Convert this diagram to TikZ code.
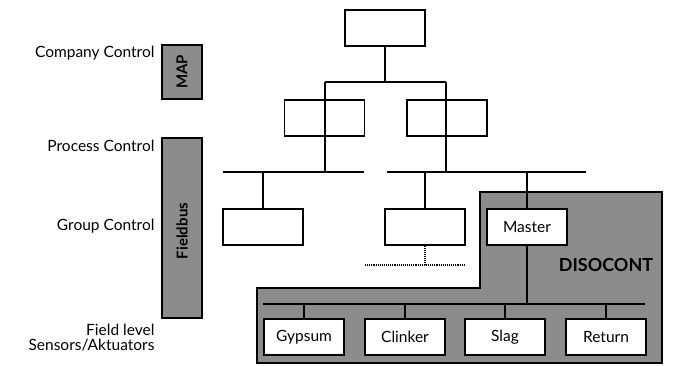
\documentclass[tikz,border=0pt]{standalone}
\usepackage{fontspec}
\setmainfont{Lato}
\begin{document}
\begin{tikzpicture}[x=1pt,y=-1pt,line width=1.1pt,
  box/.style={draw,fill=white,minimum width=80pt,minimum height=36pt,inner sep=0pt,font=\fontsize{15.5}{17}\selectfont},
  gbar/.style={draw,fill=black!45},
  lbl/.style={anchor=east,font=\fontsize{15.5}{17}\selectfont,inner sep=0pt,align=right}]
\useasboundingbox (0,0) rectangle (676,366);
% left bars
\node[gbar,minimum width=40pt,minimum height=54pt,inner sep=0pt] (map) at (182,72) {};
\node[rotate=90,font=\bfseries\fontsize{15}{16}\selectfont] at (map.center) {MAP};
\node[gbar,minimum width=40pt,minimum height=180pt,inner sep=0pt] (fb) at (182,228) {};
\node[rotate=90,font=\bfseries\fontsize{15}{16}\selectfont] at ([yshift=-3pt]fb.center) {Fieldbus};
\node[lbl] (l1) at (155,53) {Company Control};
\node[lbl] (l2) at (155,146) {Process Control};
\node[lbl] (l3) at (155,226) {Group Control};
\node[lbl,font=\fontsize{15.5}{15}\selectfont] (l4) at (155,338) {Field level\\Sensors/Aktuators};
% gray DISOCONT region
\draw[fill=black!45] (480,192) -- (662,192) -- (662,363) -- (257,363) -- (257,288) -- (480,288) -- cycle;
\node[font=\bfseries\fontsize{18}{20}\selectfont] (dis) at (606,265) {DISOCONT};
% top
\node[box] (top) at (385,28) {};
\coordinate (j1) at (385,82);
\coordinate (j1l) at (325,82);
\coordinate (j1r) at (446,82);
\draw (top) -- (j1);
\draw (j1l) -- (j1r);
\coordinate (b1l) at (325,172);
\coordinate (b1r) at (446,172);
\node[box] (m1) at (324.5,118) {};
\node[box] (m2) at (447,118) {};
\draw (j1l) -- (b1l);
\draw (j1r) -- (b1r);
% process buses
\coordinate (pb1a) at (223,172);
\coordinate (pb1b) at (364,172);
\coordinate (pb2a) at (387,172);
\coordinate (pb2b) at (586,172);
\draw (pb1a) -- (pb1b);
\draw (pb2a) -- (pb2b);
% group level
\node[box] (g1) at (263,227) {};
\node[box] (g2) at (425,227) {};
\node[box] (ms) at (527,227) {Master};
\draw (263,172) -- (g1.north);
\draw (425,172) -- (g2.north);
\draw (527,172) -- (ms.north);
% dotted
\coordinate (d1) at (425,265);
\coordinate (d2) at (365,265);
\coordinate (d3) at (465,265);
\draw[densely dotted] (g2.south) -- (d1);
\draw[densely dotted] (d2) -- (d3);
% field bus
\coordinate (fa) at (263,304);
\coordinate (fb2) at (645,304);
\draw (fa) -- (fb2);
\draw (ms.south) -- (527,304);
\node[box] (f1) at (304,337) {Gypsum};
\node[box] (f2) at (405,337) {Clinker};
\node[box] (f3) at (505,337) {Slag};
\node[box] (f4) at (606,337) {Return};
\foreach \n in {f1,f2,f3,f4} \draw (\n.north) -- (\n.north |- fa);
\end{tikzpicture}
\end{document}
